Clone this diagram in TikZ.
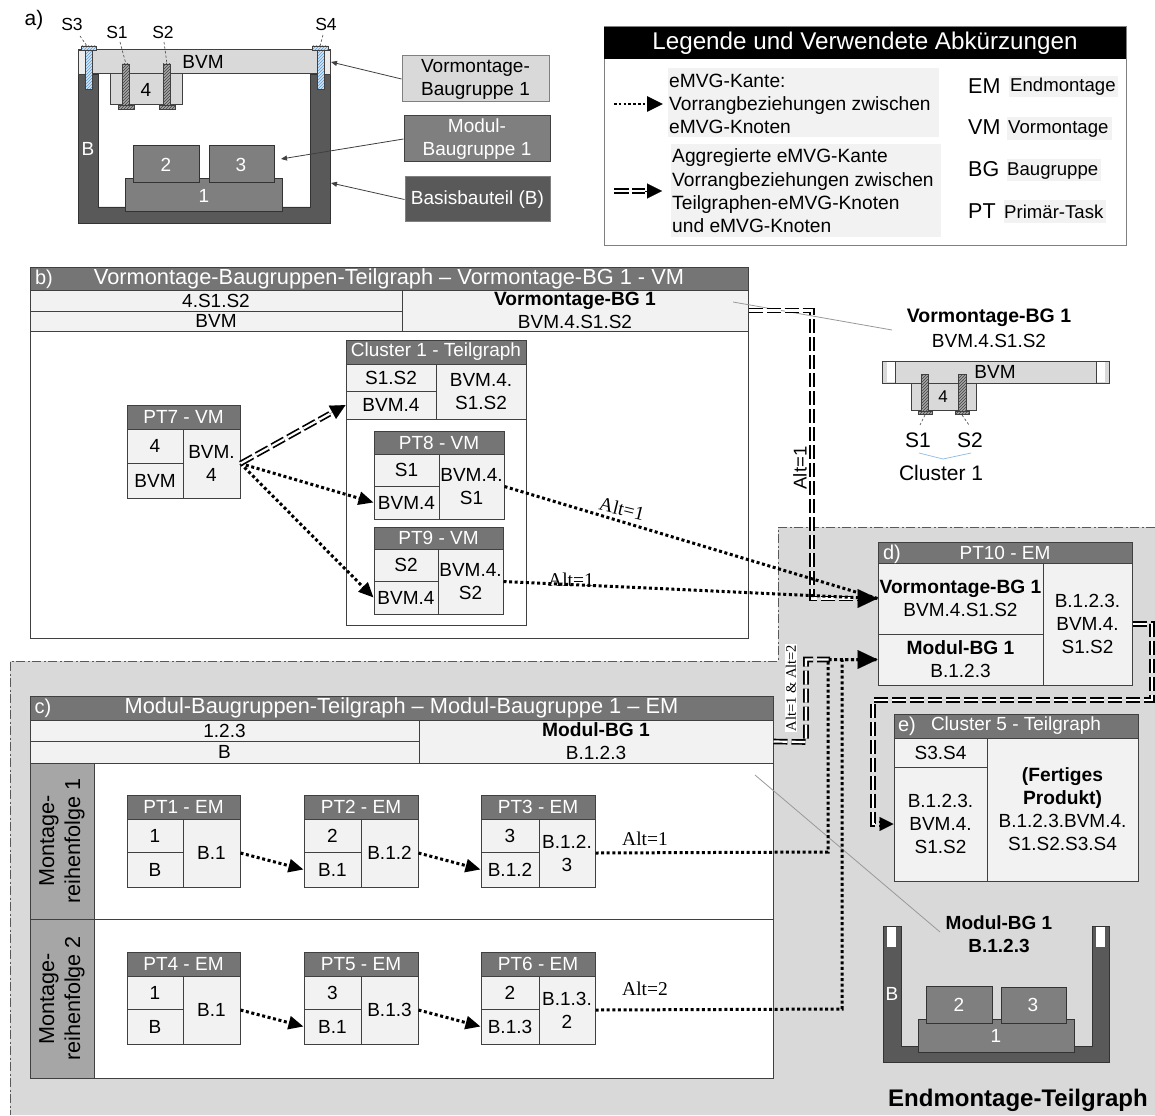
\documentclass[tikz,border=0pt]{standalone}
\usepackage{fontspec}
\setmainfont{Liberation Sans}
\newfontfamily\serifalt{Liberation Serif}
\usetikzlibrary{arrows.meta,patterns,calc}
\definecolor{hdr}{HTML}{757575}
\definecolor{cellf}{HTML}{F2F2F2}
\definecolor{lg}{HTML}{D9D9D9}
\definecolor{mg}{HTML}{7F7F7F}
\definecolor{dg}{HTML}{595959}
\definecolor{col}{HTML}{A6A6A6}
\definecolor{edge}{HTML}{404040}
\definecolor{hatchblue}{HTML}{5B9BD5}
\newcommand{\fsz}[2]{\fontsize{#1}{#2}\selectfont}
\tikzset{
  x=1pt,y=-1pt,
  cellb/.style={draw=edge,line width=1pt,rectangle,inner sep=0pt,align=center,font=\fsz{19}{23}},
  cfill/.style={fill=cellf},
  hfill/.style={fill=hdr,text=white},
  txt/.style={inner sep=0pt,align=center,font=\fsz{19}{23}},
  btxt/.style={inner sep=0pt,align=center,font=\fsz{19.5}{23}\bfseries},
  keybox/.style={cellb,font=\fsz{19}{23}},
  lead/.style={draw=edge,line width=.6pt,dash pattern=on 2.5pt off 2pt},
  thinarr/.style={draw=edge,line width=.8pt,-{Triangle[length=6pt,width=5pt]}},
  greyline/.style={draw=gray!80,line width=.8pt},
  dotl/.style={draw=black,line width=3pt,dash pattern=on 3pt off 2.6pt},
  dottip/.style={dotl,-{Triangle[length=15pt,width=13pt,sep=0pt]}},
  dblline/.style={draw=black,line width=1.7pt,double=white,double distance=2.2pt,dash pattern=on 14pt off 4pt,line join=miter},
  tipS/.style={draw=black,line width=.1pt,-{Triangle[length=15pt,width=15pt,sep=0pt]}},
  tipL/.style={draw=black,line width=.1pt,-{Triangle[length=20pt,width=19pt,sep=0pt]}},
  part/.style={draw=black!80,line width=1pt},
  screwb/.style={draw=edge,line width=.7pt,pattern=north east lines,pattern color=hatchblue},
  screwd/.style={draw=edge,line width=.7pt,pattern=north east lines,pattern color=black!75},
}
\newcommand{\cellbox}[7]{%
  \pgfmathsetmacro\cw{#4-#2}\pgfmathsetmacro\ch{#5-#3}%
  \node[cellb,#6,minimum width=\cw pt,minimum height=\ch pt] (#1) at ({(#2+#4)/2},{(#3+#5)/2}) {#7};}
% id x1 y1 x2 y2 yhead xsplit ysplit
\newcommand{\ptbox}[8]{%
  \cellbox{#1h}{#2}{#3}{#4}{#6}{hfill}{\ptT}%
  \cellbox{#1lt}{#2}{#6}{#7}{#8}{cfill}{\ptA}%
  \cellbox{#1lb}{#2}{#8}{#7}{#5}{cfill}{\ptB}%
  \cellbox{#1r}{#7}{#6}{#4}{#5}{cfill}{\ptC}}
\newcommand{\ptset}[4]{\def\ptT{#1}\def\ptA{#2}\def\ptB{#3}\def\ptC{#4}}
\newcommand{\bb}[1]{{\fsz{19.2}{23}\bfseries #1}}
\begin{document}
\begin{tikzpicture}
\useasboundingbox (0,0) rectangle (1155,1115);
\fill[white] (0,0) rectangle (1155,1115);
% grey region
\fill[lg] (778,527) -- (1155,527) -- (1155,1115) -- (10,1115) -- (10,661) -- (778,661) -- cycle;
\draw[draw=gray!70!black,line width=.9pt,dash pattern=on 9pt off 2.5pt on 2pt off 2.5pt] (1155,527) -- (778,527) -- (778,661) -- (10,661) -- (10,1115);

% ---------- a)
\node[txt,font=\fsz{21}{24}] (la) at (34,20) {a)};
\fill[dg,draw=black!80,line width=.7pt] (78,74) -- (98,74) -- (98,207) -- (310,207) -- (310,74) -- (330,74) -- (330,223) -- (78,223) -- cycle;
\draw[part,fill=lg,draw=edge] (78,50) rectangle (330,74);
\draw[draw=edge,fill=lg!50!white,line width=.7pt] (78,50) rectangle (85,74);
\draw[draw=edge,fill=lg!50!white,line width=.7pt] (324,50) rectangle (330,74);
\draw[part,fill=lg,draw=edge] (110,74) rectangle (182,105);
\node[txt] (a4) at (146,90) {4};
\node[txt] (abvm) at (203,62) {BVM};
\fill[hatchblue!25] (81,46) rectangle (96,50) (85,50) rectangle (92,89) (312,46) rectangle (328,50) (317,50) rectangle (324,89);
\draw[screwb] (81,46) rectangle (96,50);
\draw[screwb] (85,50) rectangle (92,89);
\draw[screwb] (312,46) rectangle (328,50);
\draw[screwb] (317,50) rectangle (324,89);
\fill[gray!70] (122,64) rectangle (129,105) (118,105) rectangle (134,109) (163,64) rectangle (170,105) (159,105) rectangle (175,109);
\draw[screwd] (122,64) rectangle (129,105);
\draw[screwd] (118,105) rectangle (134,109);
\draw[screwd] (163,64) rectangle (170,105);
\draw[screwd] (159,105) rectangle (175,109);
\node[txt,font=\fsz{17.5}{20}] (s3) at (72,24) {S3};
\node[txt,font=\fsz{17.5}{20}] (s1) at (117,32) {S1};
\node[txt,font=\fsz{17.5}{20}] (s2) at (163,32) {S2};
\node[txt,font=\fsz{17.5}{20}] (s4) at (326,24) {S4};
\draw[lead] (80,36) -- (87,46);
\draw[lead] (120,42) -- (126,64);
\draw[lead] (164,42) -- (167,64);
\draw[lead] (323,35) -- (320,46);
\draw[part,fill=mg] (125,179) rectangle (282,212);
\draw[part,fill=mg] (133,146) rectangle (199,183);
\draw[part,fill=mg] (209,146) rectangle (274,183);
\node[txt,text=white] (a1) at (204,196) {1};
\node[txt,text=white] (a2) at (166,165) {2};
\node[txt,text=white] (a3) at (241,165) {3};
\node[txt,text=white] (ab) at (88,149) {B};
\node[keybox,draw=gray,fill=lg,minimum width=147pt,minimum height=46pt] (kv) at (475.5,79) {Vormontage-\\Baugruppe 1};
\node[keybox,draw=edge,fill=mg,text=white,minimum width=146pt,minimum height=46pt] (km) at (477,139) {Modul-\\Baugruppe 1};
\node[keybox,draw=gray,fill=dg,text=white,minimum width=145pt,minimum height=45pt] (kb) at (477.5,199.5) {Basisbauteil (B)};
\coordinate (tv) at (331,62);
\coordinate (tm) at (281,159);
\coordinate (tb) at (331,183);
\draw[thinarr] (kv.west) -- (tv);
\draw[thinarr] (km.west) -- (tm);
\draw[thinarr] (kb.west) -- (tb);

% ---------- Legend
\node[draw=gray,line width=1pt,fill=white,minimum width=522pt,minimum height=218pt,inner sep=0pt] (leg) at (865,136) {};
\node[fill=black,text=white,minimum width=522pt,minimum height=32pt,inner sep=0pt,font=\fsz{24.2}{28}] (legh) at (865,43) {Legende und Verwendete Abkürzungen};
\fill[cellf] (668,68) rectangle (939,137);
\fill[cellf] (671,144) rectangle (941,237);
\node[txt,anchor=west,align=left,font=\fsz{19.2}{22.7},inner xsep=6pt] (l1) at (663,104) {eMVG-Kante:\\Vorrangbeziehungen zwischen\\eMVG-Knoten};
\node[txt,anchor=west,align=left,font=\fsz{19.2}{23.3},inner xsep=10pt] (l2) at (662,191) {Aggregierte eMVG-Kante\\Vorrangbeziehungen zwischen\\Teilgraphen-eMVG-Knoten\\und eMVG-Knoten};
\coordinate (la1) at (614,104);
\coordinate (la2) at (614,191);
\draw[draw=black,line width=2.6pt,dash pattern=on 2.6pt off 2.2pt,-{Triangle[length=16pt,width=15pt,sep=0pt]}] (la1) -- (l1.west);
\coordinate (la3) at (645,191);
\draw[dblline,dash pattern=on 15pt off 3pt] (la2) -- (la3);
\draw[tipS] (la3) -- (l2.west);
\fill[cellf] (1009,76) rectangle (1118,97);
\fill[cellf] (1007,117) rectangle (1112,140);
\fill[cellf] (1004,200) rectangle (1106,223);
\fill[cellf] (1007,159) rectangle (1101,181);
\node[txt,anchor=west,font=\fsz{21.5}{24}] (em) at (968,86) {EM};
\node[txt,anchor=west,font=\fsz{21.5}{24}] (vm) at (968,127) {VM};
\node[txt,anchor=west,font=\fsz{21.5}{24}] (bg) at (968,169) {BG};
\node[txt,anchor=west,font=\fsz{21.5}{24}] (pt) at (968,211) {PT};
\node[txt,anchor=west,font=\fsz{18.6}{23}] (eml) at (1010,87) {Endmontage};
\node[txt,anchor=west,font=\fsz{18.6}{23}] (vml) at (1008,129) {Vormontage};
\node[txt,anchor=west,font=\fsz{18.6}{23}] (bgl) at (1007,171) {Baugruppe};
\node[txt,anchor=west,font=\fsz{18.6}{23}] (ptl) at (1004,212) {Primär-Task};

% ---------- b)
\node[cellb,fill=white,minimum width=718pt,minimum height=371pt] (bbox) at (389,452.5) {};
\cellbox{bh}{30}{267}{748}{290}{hfill,font=\fsz{21.8}{23}}{Vormontage-Baugruppen-Teilgraph – Vormontage-BG 1 - VM}
\node[txt,text=white,font=\fsz{20}{23}] (blab) at (44,279) {b)};
\cellbox{bl1}{30}{290}{402}{311}{cfill}{4.S1.S2}
\cellbox{bl2}{30}{311}{402}{331}{cfill}{BVM}
\cellbox{bvr}{402}{290}{748}{331}{cfill}{\bb{Vormontage-BG 1}\\BVM.4.S1.S2}

\ptset{PT7 - VM}{4}{BVM}{BVM.\\4}
\ptbox{pt7}{127}{405}{240}{498}{429}{183}{463}

\node[cellb,fill=white,minimum width=180pt,minimum height=285pt] (clu) at (436,482.5) {};
\ptset{Cluster 1 - Teilgraph}{S1.S2}{BVM.4}{BVM.4.\\S1.S2}
\ptbox{cl}{346}{340}{526}{419}{364}{436}{391}
\ptset{PT8 - VM}{S1}{BVM.4}{BVM.4.\\S1}
\ptbox{pt8}{374}{431}{504}{519}{454}{439}{486}
\ptset{PT9 - VM}{S2}{BVM.4}{BVM.4.\\S2}
\ptbox{pt9}{374}{527}{503}{614}{549}{438}{581}

% ---------- c)
\node[cellb,fill=white,minimum width=743pt,minimum height=382pt] (cbox) at (401.5,887) {};
\cellbox{ch}{30}{696}{773}{720}{hfill,font=\fsz{21.8}{23}}{Modul-Baugruppen-Teilgraph – Modul-Baugruppe 1 – EM}
\node[txt,text=white,font=\fsz{20}{23}] (clab) at (43,708) {c)};
\cellbox{cl1}{30}{720}{419}{741}{cfill}{1.2.3}
\cellbox{cl2}{30}{741}{419}{763}{cfill}{B}
\cellbox{cvr}{419}{720}{773}{763}{cfill}{\bb{Modul-BG 1}\\B.1.2.3}
\cellbox{row1}{30}{763}{94}{919}{fill=col}{}
\cellbox{row2}{30}{919}{94}{1078}{fill=col}{}
\cellbox{rowa}{94}{763}{773}{919}{fill=white}{}
\cellbox{rowb}{94}{919}{773}{1078}{fill=white}{}
\node[txt,rotate=90,font=\fsz{21.6}{26}] (r1t) at (row1) {Montage-\\reihenfolge 1};
\node[txt,rotate=90,font=\fsz{21.6}{26}] (r2t) at (row2) {Montage-\\reihenfolge 2};

\ptset{PT1 - EM}{1}{B}{B.1}
\ptbox{pt1}{127}{795}{240}{887}{819}{183}{852}
\ptset{PT2 - EM}{2}{B.1}{B.1.2}
\ptbox{pt2}{304}{795}{418}{887}{819}{361}{852}
\ptset{PT3 - EM}{3}{B.1.2}{B.1.2.\\3}
\ptbox{pt3}{481}{795}{595}{887}{819}{539}{852}
\ptset{PT4 - EM}{1}{B}{B.1}
\ptbox{pt4}{127}{952}{240}{1044}{976}{183}{1009}
\ptset{PT5 - EM}{3}{B.1}{B.1.3}
\ptbox{pt5}{304}{952}{418}{1044}{976}{361}{1009}
\ptset{PT6 - EM}{2}{B.1.3}{B.1.3.\\2}
\ptbox{pt6}{481}{952}{595}{1044}{976}{539}{1009}

% ---------- d)
\ptset{PT10 - EM}{\bb{Vormontage-BG 1}\\BVM.4.S1.S2}{\bb{Modul-BG 1}\\B.1.2.3}{B.1.2.3.\\BVM.4.\\S1.S2}
\ptbox{d}{878}{542}{1132}{685}{563}{1043}{634}
\node[txt,text=white,font=\fsz{20}{23}] (dlab) at (892,554) {d)};
% ---------- e)
\ptset{Cluster 5 - Teilgraph}{S3.S4}{B.1.2.3.\\BVM.4.\\S1.S2}{\bb{(Fertiges}\\\bb{Produkt)}\\B.1.2.3.BVM.4.\\S1.S2.S3.S4}
\ptbox{e}{894}{714}{1138}{881}{738}{987}{767}
\node[txt,text=white,font=\fsz{20}{23}] (elab) at (907,726) {e)};

% ---------- right figure vormontage
\node[btxt] (rv1) at (989,318) {Vormontage-BG 1};
\node[txt] (rv2) at (989,341) {BVM.4.S1.S2};
\draw[part,fill=lg,draw=edge] (882,361) rectangle (1109,383);
\fill[white] (887,362) rectangle (895,382);
\fill[white] (1096,362) rectangle (1105,382);
\draw[draw=edge,line width=.7pt] (895,361) -- (895,383) (1096,361) -- (1096,383);
\node[txt] (rbvm) at (995,372) {BVM};
\draw[part,fill=lg,draw=edge] (911,383) rectangle (976,410);
\node[txt,font=\fsz{17}{20}] (r4) at (943,397) {4};
\fill[gray!70] (921,374) rectangle (928,411) (918,411) rectangle (932,414) (958,374) rectangle (966,411) (955,411) rectangle (969,414);
\draw[screwd] (921,374) rectangle (928,411);
\draw[screwd] (918,411) rectangle (932,414);
\draw[screwd] (958,374) rectangle (966,411);
\draw[screwd] (955,411) rectangle (969,414);
\draw[lead] (925,415) -- (920,425);
\draw[lead] (962,415) -- (969,425);
\node[txt,font=\fsz{21}{24}] (rs1) at (918,440) {S1};
\node[txt,font=\fsz{21}{24}] (rs2) at (970,440) {S2};
\draw[draw=hatchblue!70,line width=.7pt] (919,453) -- (943,459) -- (971,453);
\node[txt,font=\fsz{21}{24}] (rc1) at (941,473) {Cluster 1};
\coordinate (gl1a) at (733,302);
\coordinate (gl1b) at (892,330);
\draw[greyline] (gl1a) -- (gl1b);

% ---------- right figure modul
\fill[dg,draw=black!80,line width=.7pt] (883,926) -- (901,926) -- (901,1046) -- (1092,1046) -- (1092,926) -- (1109,926) -- (1109,1062) -- (883,1062) -- cycle;
\fill[white] (887,927) rectangle (896,947);
\fill[white] (1096,927) rectangle (1105,947);
\draw[part,fill=mg] (918,1019) rectangle (1074,1052);
\draw[part,fill=mg] (926,986) rectangle (992,1023);
\draw[part,fill=mg] (1001,987) rectangle (1066,1023);
\node[txt,text=white] (m1) at (996,1036) {1};
\node[txt,text=white] (m2) at (959,1005) {2};
\node[txt,text=white] (m3) at (1033,1005) {3};
\node[txt,text=white] (mb) at (892,994) {B};
\node[btxt,font=\fsz{19}{23}\bfseries] (mm) at (999,934.5) {Modul-BG 1\\B.1.2.3};
\coordinate (gl2a) at (755,775);
\coordinate (gl2b) at (940,932);
\draw[greyline] (gl2a) -- (gl2b);
\node[txt,font=\fsz{24}{28}\bfseries] (endm) at (1018,1100) {Endmontage-Teilgraph};

% ---------- connectors
\draw[dottip] (pt1r.east) -- (pt2lb.west);
\draw[dottip] (pt2r.east) -- (pt3lb.west);
\draw[dottip] (pt4r.east) -- (pt5lb.west);
\draw[dottip] (pt5r.east) -- (pt6lb.west);
\draw[dottip] (pt7r.east) -- (pt8lb.west);
\draw[dottip] (pt7r.east) -- (pt9lb.west);
\coordinate (cl7) at ($(pt7r.east)!0.85!(cllb.west)$);
\draw[dblline] (pt7r.east) -- (cl7);
\draw[tipS] (cl7) -- (cllb.west);
% b to d
\coordinate (bd1) at (812,310.5);
\coordinate (bd2) at (812,598.5);
\coordinate (bd3) at (858,598.5);
\draw[dblline] (bvr.east) -- (bd1) -- (bd2) -- (bd3);
\draw[dotl] (pt8r.east) -- (dlt.west);
\draw[dotl] (pt9r.east) -- (dlt.west);
% c to d
\coordinate (cd1) at (806,742);
\coordinate (cd2) at (806,659.5);
\coordinate (cd3) at (830,659.5);
\draw[dblline] (cvr.east) -- (cd1) -- (cd2) -- (cd3);
\coordinate (c3a) at (828,852);
\coordinate (c3b) at (828,659.5);
\coordinate (c6a) at (842,1009);
\coordinate (c6b) at (842,659.5);
\draw[dotl] (pt3r.east) -- (c3a) -- (c3b) -- (dlb.west);
\draw[dotl] (pt6r.east) -- (c6a) -- (c6b) -- (dlb.west);
\coordinate (tipd1) at (860,598.5);
\coordinate (tipd2) at (860,659.5);
\draw[tipL] (tipd1) -- (dlt.west);
\draw[tipL] (tipd2) -- (dlb.west);
% d to e
\coordinate (de1) at (1152,624);
\coordinate (de2) at (1152,700);
\coordinate (de3) at (873,700);
\coordinate (de4) at (873,824);
\coordinate (tipe) at (880,824);
\draw[dblline] (dr.east) -- (de1) -- (de2) -- (de3) -- (de4) -- (tipe);
\draw[draw=black,line width=.1pt,-{Triangle[length=14pt,width=14pt,sep=0pt]}] (tipe) -- (elb.west);
% labels
\node[inner sep=0pt,font=\serifalt\fsz{19.5}{22},rotate=-14] (ta1) at (622,509) {Alt=1};
\node[inner sep=0pt,font=\serifalt\fsz{19.5}{22}] (ta2) at (571,580) {Alt=1};
\node[inner sep=0pt,font=\serifalt\fsz{19.5}{22}] (ta3) at (645,839) {Alt=1};
\node[inner sep=0pt,font=\serifalt\fsz{19.5}{22}] (ta4) at (645,989) {Alt=2};
\node[inner sep=0pt,font=\fsz{18.5}{20},rotate=90] (ta5) at (800,468) {Alt=1};
\node[inner sep=1pt,fill=white,font=\serifalt\fsz{14.5}{16},rotate=90] (ta6) at (791,688) {Alt=1 \& Alt=2};
\end{tikzpicture}
\end{document}
